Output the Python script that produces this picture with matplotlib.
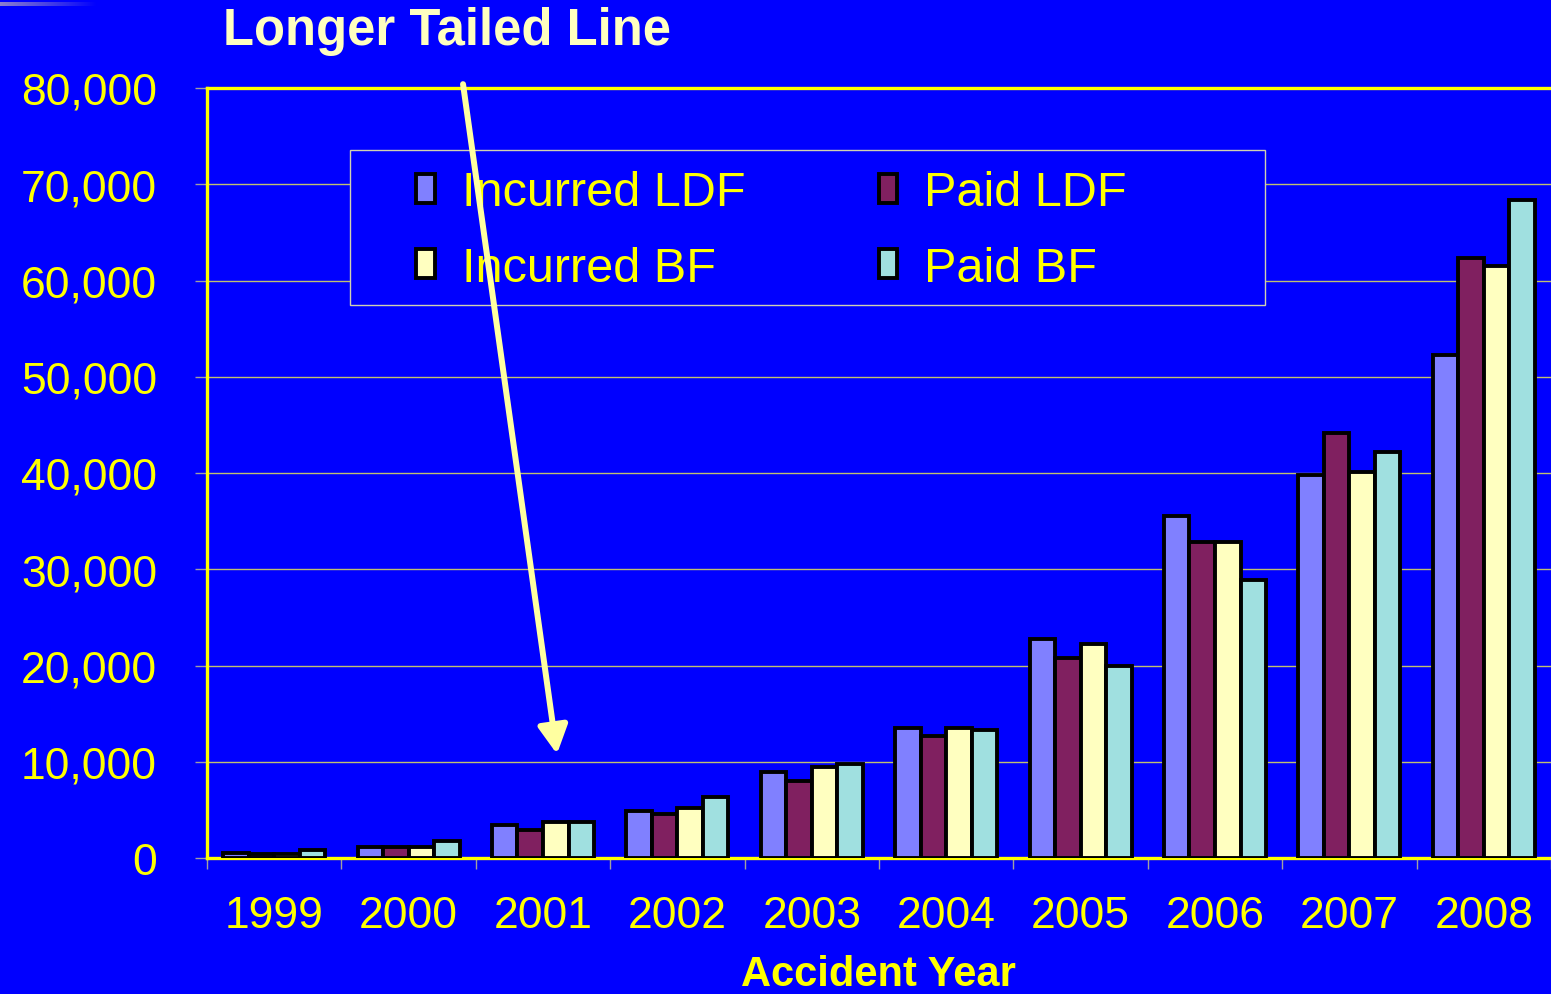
import numpy as np
import matplotlib.pyplot as plt
from matplotlib.patches import Rectangle

years = ['1999', '2000', '2001', '2002', '2003', '2004', '2005', '2006', '2007', '2008']
series_names = ['Incurred LDF', 'Paid LDF', 'Incurred BF', 'Paid BF']
incurred_ldf = [500, 1100, 3430, 4880, 8900, 13540, 22750, 35560, 39790, 52260]
paid_ldf = [450, 1100, 2900, 4600, 8030, 12710, 20780, 32860, 44120, 62340]
incurred_bf = [400, 1100, 3740, 5190, 9490, 13540, 22230, 32860, 40070, 61470]
paid_bf = [850, 1730, 3740, 6300, 9770, 13300, 19950, 28880, 42150, 68360]
colors = ['#8080ff', '#802060', '#ffffc0', '#a0e0e0']
y_ticks = [0, 10000, 20000, 30000, 40000, 50000, 60000, 70000, 80000]

bg = '#0000ff'
yellow = '#ffff00'

fig = plt.figure(figsize=(15.51, 9.95), dpi=100, facecolor=bg)
ax = fig.add_axes([207 / 1551, 1 - 859 / 995, 1 - 207 / 1551, (859 - 89) / 995])
ax.set_facecolor(bg)

x = np.arange(len(years))
bw = 0.19
all_series = [incurred_ldf, paid_ldf, incurred_bf, paid_bf]
bars = []
for k, (vals, name, c) in enumerate(zip(all_series, series_names, colors)):
    b = ax.bar(x + (k - 1.5) * bw, vals, bw, color=c, edgecolor='black',
               linewidth=2.8, label=name, zorder=3)
    bars.append(b)

ax.set_xlim(-0.5, len(years) - 0.5)
ax.set_ylim(0, 80000)
ax.set_yticks(y_ticks)
ax.set_yticklabels([f'{v:,}' for v in y_ticks])
ax.set_xticks(x)
ax.set_xticklabels(years)
ax.set_xticks(np.arange(len(years) + 1) - 0.5, minor=True)

ax.tick_params(axis='y', colors='#a0a0a0', length=9, width=1, labelcolor=yellow,
               labelsize=32, pad=27)
ax.tick_params(axis='x', which='major', length=0, labelcolor=yellow,
               labelsize=32, pad=27)
ax.tick_params(axis='x', which='minor', colors='#a0a0a0', length=8, width=1)
for lab in ax.get_xticklabels() + ax.get_yticklabels():
    lab.set_family('Liberation Sans')

ax.grid(axis='y', color='#c0c070', linewidth=1.0, zorder=0)
ax.set_axisbelow(True)

for side in ['left', 'bottom', 'top']:
    ax.spines[side].set_color(yellow)
    ax.spines[side].set_linewidth(2.4)
ax.spines['right'].set_visible(False)

# legend frame drawn on its own
ax.add_patch(Rectangle(((350 - 207) / 1344, (859 - 306) / 770),
                       (1265 - 350) / 1344, (306 - 151) / 770,
                       transform=ax.transAxes, facecolor=bg, edgecolor='#d0d0b0',
                       linewidth=1, zorder=4))
# row-wise order: Incurred LDF, Paid LDF / Incurred BF, Paid BF
order = [0, 2, 1, 3]
leg = ax.legend([bars[i] for i in order], [series_names[i] for i in order],
                ncol=2, loc='center', bbox_to_anchor=(0.420, 0.815),
                frameon=False, prop={'family': 'Liberation Sans', 'size': 35},
                handlelength=0.38, handleheight=0.55, handletextpad=0.55,
                columnspacing=2.75, labelspacing=0.62)
leg.set_zorder(5)
for t in leg.get_texts():
    t.set_color(yellow)

# arrow pointing down to 2001
ax.annotate('', xy=(2.104, 10800), xytext=(1.405, 80400),
            arrowprops=dict(arrowstyle='-|>,head_length=1.7,head_width=0.9',
                            mutation_scale=10, color='#ffffa0', linewidth=4.3,
                            shrinkA=0, shrinkB=0),
            annotation_clip=False, zorder=6)

fig.text(447 / 1551, 1 - 31 / 995, 'Longer Tailed Line', color='#ffffc0',
         fontsize=36.5, fontweight='bold', family='Liberation Sans',
         ha='center', va='center')
fig.text(878 / 1551, 1 - 975 / 995, 'Accident Year', color=yellow,
         fontsize=30, fontweight='bold', family='Liberation Sans',
         ha='center', va='center')

# small fading bar in the top-left corner
gax = fig.add_axes([0, 1 - 7 / 995, 97 / 1551, 4 / 995])
grad = np.linspace(0, 1, 100)
c0 = np.array([0.55, 0.5, 0.8])
c1 = np.array([0.0, 0.0, 1.0])
img = (c0[None, :] * (1 - grad[:, None]) + c1[None, :] * grad[:, None])[None, :, :]
gax.imshow(img, aspect='auto')
gax.axis('off')

fig.savefig('out.png', dpi=100, facecolor=bg)
